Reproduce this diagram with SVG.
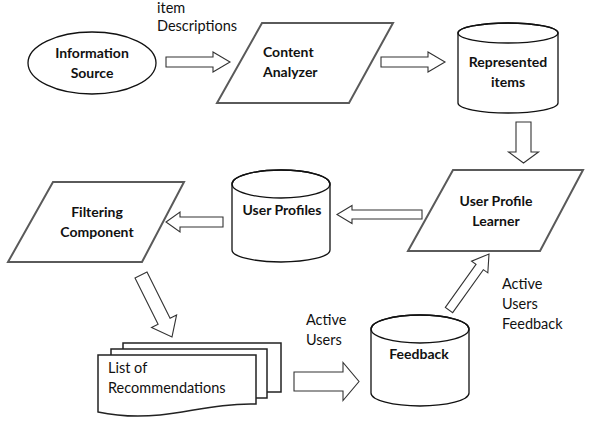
<svg xmlns="http://www.w3.org/2000/svg" width="592" height="422" viewBox="0 0 592 422">
<style>
.bg{fill:#fff}
.para{fill:#fff;stroke:#5a5a5a;stroke-width:2;stroke-linejoin:miter}
.cyl{fill:#fff;stroke:#111;stroke-width:1.3}
.cylt{fill:none;stroke:#111;stroke-width:1.3}
.doc{fill:#fff;stroke:#222;stroke-width:1.5}
.arr{fill:#fff;stroke:#333;stroke-width:1.1;stroke-linejoin:miter}
.b{font-family:Lato,"Liberation Sans",sans-serif;font-weight:bold;font-size:14px;fill:#111;text-anchor:middle}
.bl{font-family:Lato,"Liberation Sans",sans-serif;font-weight:bold;font-size:14px;fill:#111}
.r{font-family:Lato,"Liberation Sans",sans-serif;font-size:14.5px;fill:#111}
</style>
<rect class="bg" x="0" y="0" width="592" height="422"/>
<g id="information-source">
<ellipse cx="92" cy="63" rx="64" ry="31" fill="#fff" stroke="#111" stroke-width="1.3"/>
<text class="b" x="92" y="58">Information</text>
<text class="b" x="92" y="78">Source</text>
</g>
<g id="content-analyzer">
<polygon class="para" points="262,23 393,23 349,103 217,103"/>
<text class="bl" x="263" y="57">Content</text>
<text class="bl" x="263" y="77">Analyzer</text>
</g>
<g id="represented-items">
<path class="cyl" d="M458,33 A50,10 0 0 1 558,33 V103 A50,10 0 0 1 458,103 Z"/>
<ellipse class="cylt" cx="508" cy="33" rx="50" ry="10"/>
<text class="b" x="508" y="67">Represented</text>
<text class="b" x="508" y="87">items</text>
</g>
<g id="user-profile-learner">
<polygon class="para" points="453,170 583,170 540,251 408,251"/>
<text class="b" x="496" y="206">User Profile</text>
<text class="b" x="496" y="226">Learner</text>
</g>
<g id="user-profiles">
<path class="cyl" d="M232,184 A49,14 0 0 1 330,184 V250 A49,12 0 0 1 232,250 Z"/>
<ellipse class="cylt" cx="281" cy="184" rx="49" ry="14"/>
<text class="b" x="282" y="215">User Profiles</text>
</g>
<g id="filtering-component">
<polygon class="para" points="53,182 184,182 142,262 8,262"/>
<text class="b" x="97" y="217">Filtering</text>
<text class="b" x="97" y="237">Component</text>
</g>
<g id="list-of-recommendations">
<rect class="doc" x="123" y="343" width="158" height="49"/>
<rect class="doc" x="111" y="349" width="156" height="49"/>
<path class="doc" d="M98,355 H256 V404 C220,403 190,412 160,415 C130,418 112,415 98,412 Z"/>
<text class="r" x="108" y="373">List of</text>
<text class="r" x="108" y="393">Recommendations</text>
</g>
<g id="feedback">
<path class="cyl" d="M371,329 A49,14 0 0 1 469,329 V393 A49,13 0 0 1 371,393 Z"/>
<ellipse class="cylt" cx="420" cy="329" rx="49" ry="14"/>
<text class="b" x="419" y="359">Feedback</text>
</g>
<g id="connectors">
<polygon class="arr" transform="translate(166,62)" points="0,-5 47,-5 47,-10 64,0 47,10 47,5 0,5"/>
<polygon class="arr" transform="translate(381,62)" points="0,-5 47,-5 47,-10 64,0 47,10 47,5 0,5"/>
<polygon class="arr" transform="translate(523.5,122) rotate(90)" points="0,-7.5 30,-7.5 30,-15 41,0 30,15 30,7.5 0,7.5"/>
<polygon class="arr" transform="translate(422,214.5) rotate(180)" points="0,-4.5 70,-4.5 70,-9 85,0 70,9 70,4.5 0,4.5"/>
<polygon class="arr" transform="translate(223,222) rotate(180)" points="0,-5 43,-5 43,-10 57,0 43,10 43,5 0,5"/>
<polygon class="arr" transform="translate(141,275) rotate(63.43)" points="0,-6.7 51.6,-6.7 51.6,-14 69.3,0 51.6,14 51.6,6.7 0,6.7"/>
<polygon class="arr" transform="translate(449,310) rotate(-54.46)" points="0,-4.5 52.8,-4.5 52.8,-10 68.8,0 52.8,10 52.8,4.5 0,4.5"/>
<polygon class="arr" transform="translate(294,381.5)" points="0,-9.5 49,-9.5 49,-19 65,0 49,19 49,9.5 0,9.5"/>
<text class="r" x="157" y="13">item</text>
<text class="r" x="157" y="31">Descriptions</text>
<text class="r" x="306" y="325">Active</text>
<text class="r" x="306" y="345">Users</text>
<text class="r" x="502" y="289">Active</text>
<text class="r" x="502" y="309">Users</text>
<text class="r" x="502" y="329">Feedback</text>
</g>
</svg>
